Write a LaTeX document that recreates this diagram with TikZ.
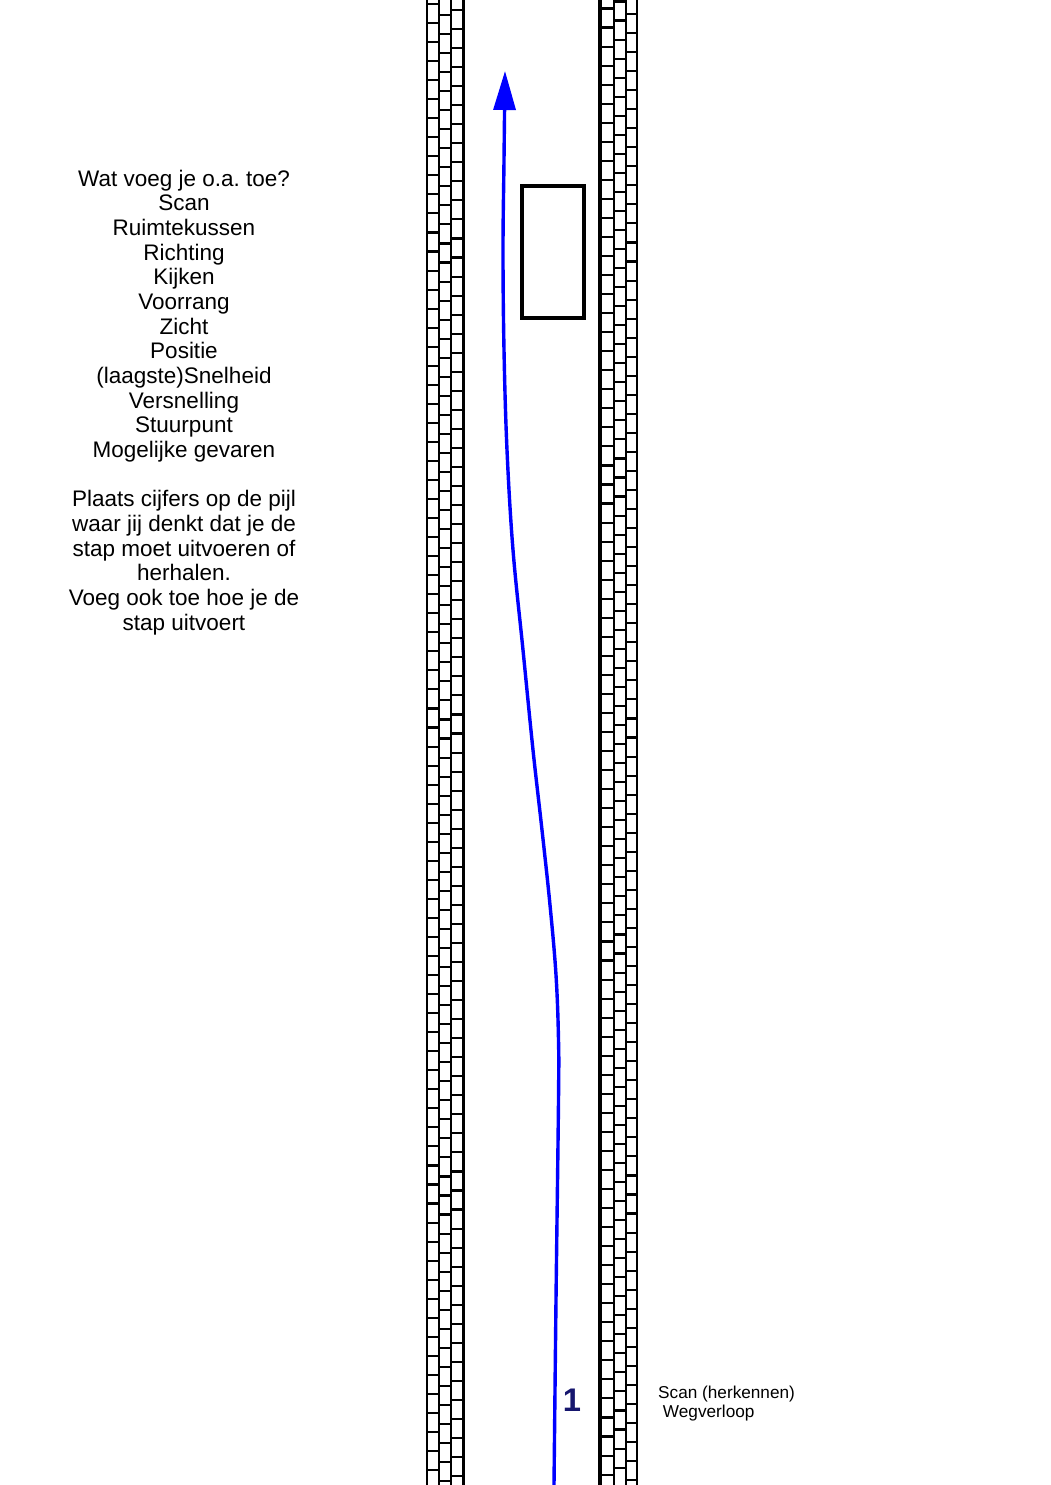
\documentclass[tikz,border=0pt]{standalone}
\usepackage{fontspec}
\setmainfont{Liberation Sans}
\usetikzlibrary{arrows.meta}
\definecolor{route}{RGB}{0,0,255}
\definecolor{navy}{RGB}{22,22,110}
\frenchspacing
\begin{document}
\begin{tikzpicture}[x=1pt,y=-1pt,
  brick/.style={line width=2.1pt},
  curb/.style={line width=3.8pt},
  obstacle/.style={line width=4pt},
  infotext/.style={font=\fontsize{22.5}{24.67}\selectfont, align=center, inner sep=0pt},
  smalltext/.style={font=\fontsize{17.2}{19.5}\selectfont, align=left, inner sep=0pt},
  stepnum/.style={font=\fontsize{32.7}{36}\selectfont\bfseries, text=navy, inner sep=0pt}]
\useasboundingbox (0,0) rectangle (1050,1485);
\fill[white] (0,0) rectangle (1050,1485);
% curbs: vertical lines
\foreach \x in {427,439,451,614,626,637} \draw[brick] (\x,0) -- (\x,1485);
\draw[curb] (463.5,0) -- (463.5,1485);
\draw[curb] (600,0) -- (600,1485);
% bricks
\foreach \xa/\xb/\off in {427/439/4, 439/451/15, 451/462/10, 601/614/8.5, 614/626/1.5, 626/637/14}{
  \foreach \i in {0,...,78}{
    \pgfmathsetmacro\yy{\off+\i*19.04}
    \draw[brick] (\xa,\yy) -- (\xb,\yy);
  }
}
% obstacle
\draw[obstacle] (522,186) rectangle (584,318);
% route
\draw[route, line width=3.4pt, -{Triangle[length=39pt,width=22pt]}]
  plot[smooth, tension=0.6] coordinates {(554,1485) (556,1300) (558.5,1100) (558.5,1040) (556,975) (550,905) (542,830) (533,750) (523,650) (513,550) (507,450) (504,350) (503,250) (504,160) (505,71)};
% texts
\node[infotext, anchor=north] (info) at (184,169.5) {Wat voeg je o.a. toe?\\Scan\\Ruimtekussen\\Richting\\Kijken\\Voorrang\\Zicht\\Positie\\(laagste)Snelheid\\Versnelling\\Stuurpunt\\Mogelijke gevaren\\[24.67pt]Plaats cijfers op de pijl\\waar jij denkt dat je de\\stap moet uitvoeren of\\herhalen.\\Voeg ook toe hoe je de\\stap uitvoert};
\node[smalltext, anchor=north west] (scan) at (658,1385.5) {Scan (herkennen)\\~Wegverloop};
\node[stepnum, anchor=base] (one) at (572,1411) {1};
\end{tikzpicture}
\end{document}
